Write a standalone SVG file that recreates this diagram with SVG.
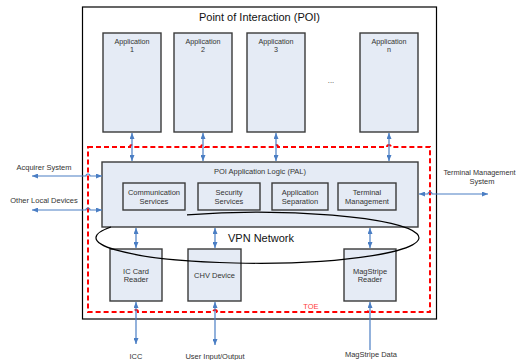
<svg xmlns="http://www.w3.org/2000/svg" width="518" height="360" viewBox="0 0 518 360">
<defs>
<style>
.box{fill:#E5EBF5;stroke:#3a3a3a;stroke-width:1.4}
.t{font-family:"Liberation Sans",Arial,sans-serif;font-size:7.5px;fill:#333;text-anchor:middle}
.app{font-size:7.2px}
.con{fill:none;stroke:#4A7EC4;stroke-width:1.2}
.dbl{marker-start:url(#ah);marker-end:url(#ah)}
</style>
<marker id="ah" viewBox="0 0 6 5" refX="6" refY="2.5" markerWidth="6" markerHeight="5" markerUnits="userSpaceOnUse" orient="auto-start-reverse">
<path d="M0,0 L6,2.5 L0,5 z" fill="#4A7EC4"/>
</marker>
</defs>
<g id="poi">
<rect x="82.5" y="7" width="354" height="312" fill="#fff" stroke="#000" stroke-width="1.2"/>
<text class="t" x="259.5" y="21" style="font-size:11px;fill:#111">Point of Interaction  (POI)</text>
</g>
<g id="toe">
<path d="M88,147 H130 a2,2 0 0 1 4,0 H201 a2,2 0 0 1 4,0 H274 a2,2 0 0 1 4,0 H387 a2,2 0 0 1 4,0 H430 V312 H372 a2,2 0 0 0 -4,0 H217 a2,2 0 0 0 -4,0 H138 a2,2 0 0 0 -4,0 H88 Z" fill="none" stroke="#FF0000" stroke-width="2" stroke-dasharray="5 3"/>
<text class="t" x="311" y="308.5" style="fill:#FF3B3B">TOE</text>
</g>
<g id="app1"><rect class="box" x="103" y="33" width="58" height="99"/><text class="t app" x="132" y="44">Application</text><text class="t app" x="132" y="52">1</text></g>
<g id="app2"><rect class="box" x="174" y="33" width="58" height="99"/><text class="t app" x="203" y="44">Application</text><text class="t app" x="203" y="52">2</text></g>
<g id="app3"><rect class="box" x="247" y="33" width="58" height="99"/><text class="t app" x="276" y="44">Application</text><text class="t app" x="276" y="52">3</text></g>
<g id="dots"><text class="t" x="331" y="83">...</text></g>
<g id="appn"><rect class="box" x="360" y="33" width="58" height="99"/><text class="t app" x="389" y="44">Application</text><text class="t app" x="389" y="52">n</text></g>
<g id="pal">
<rect class="box" x="102" y="162" width="316" height="65"/>
<text class="t" x="260" y="173.5">POI Application Logic  (PAL)</text>
</g>
<g id="comm"><rect class="box" x="123" y="183" width="62" height="27"/><text class="t" x="154" y="195">Communication</text><text class="t" x="154" y="203.5">Services</text></g>
<g id="sec"><rect class="box" x="198" y="183" width="62" height="27"/><text class="t" x="229" y="195">Security</text><text class="t" x="229" y="203.5">Services</text></g>
<g id="sep"><rect class="box" x="272" y="183" width="56" height="27"/><text class="t" x="300" y="195">Application</text><text class="t" x="300" y="203.5">Separation</text></g>
<g id="tm"><rect class="box" x="338" y="183" width="58" height="27"/><text class="t" x="367" y="195">Terminal</text><text class="t" x="367" y="203.5">Management</text></g>
<g id="icc"><rect class="box" x="110" y="249" width="52" height="52"/><text class="t" x="136" y="273.5">IC Card</text><text class="t" x="136" y="282">Reader</text></g>
<g id="chv"><rect class="box" x="188" y="249" width="53" height="52"/><text class="t" x="214.5" y="277.5">CHV Device</text></g>
<g id="msr"><rect class="box" x="344" y="249" width="52" height="52"/><text class="t" x="370" y="273.5">MagStripe</text><text class="t" x="370" y="282">Reader</text></g>
<g id="vpn">
<path d="M111,227 A161.5,25.5 0 1 0 187,214.8" fill="none" stroke="#000" stroke-width="1.2"/>
<text class="t" x="261" y="242" style="font-size:11px;fill:#111">VPN Network</text>
</g>
<g id="connectors">
<path class="con dbl" d="M132,133 V161"/>
<path class="con dbl" d="M203,133 V161"/>
<path class="con dbl" d="M276,133 V161"/>
<path class="con dbl" d="M389,133 V161"/>
<path class="con dbl" d="M136,228 V248"/>
<path class="con dbl" d="M215,228 V248"/>
<path class="con dbl" d="M370,228 V248"/>
<path class="con dbl" d="M136,302 V344"/>
<path class="con dbl" d="M215,302 V345"/>
<path class="con" d="M370,350 V302" marker-end="url(#ah)"/>
<path class="con dbl" d="M32,176 H86 a2,2 0 0 1 4,0 H102"/>
<path class="con dbl" d="M32,210 H86 a2,2 0 0 1 4,0 H102"/>
<path class="con dbl" d="M419,194 H428 a2,2 0 0 1 4,0 H488"/>
</g>
<g id="labels">
<text class="t" x="44" y="170">Acquirer System</text>
<text class="t" x="44" y="203">Other Local Devices</text>
<text class="t" x="479.5" y="175" style="font-size:7.3px">Terminal Management</text>
<text class="t" x="482" y="184">System</text>
<text class="t" x="136" y="359">ICC</text>
<text class="t" x="215" y="359">User Input/Output</text>
<text class="t" x="371" y="357">MagStripe Data</text>
</g>
</svg>
